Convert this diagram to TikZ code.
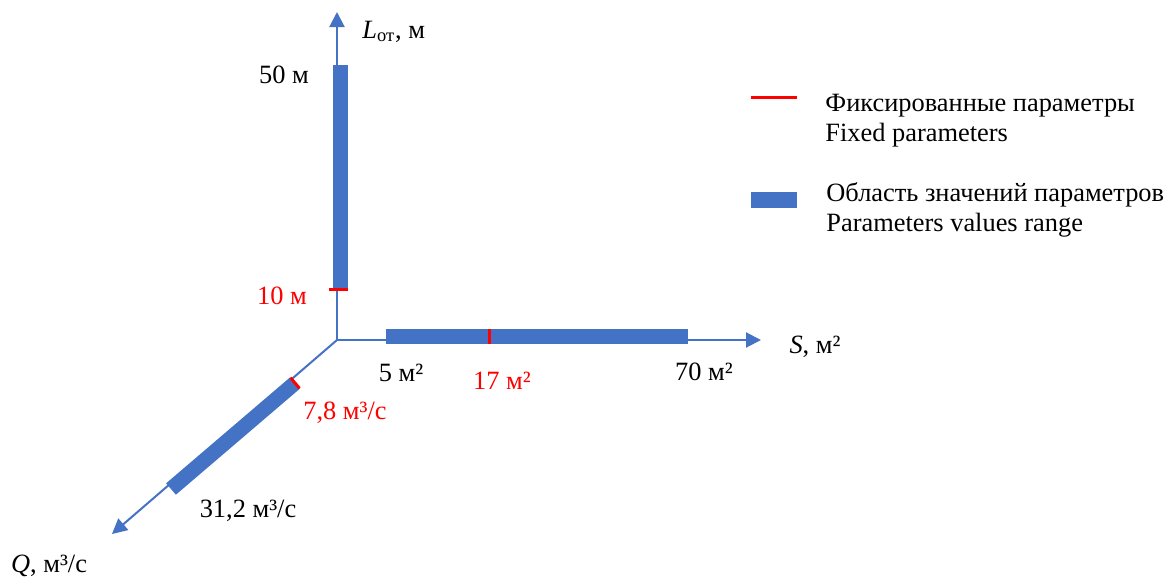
\documentclass[tikz,border=0pt]{standalone}
\usepackage{fontspec}
\setmainfont{LiberationSerif}[Extension=.ttf, UprightFont=*-Regular, ItalicFont=*-Italic, BoldFont=*-Bold, BoldItalicFont=*-BoldItalic]
\usepackage{tikz}
\usetikzlibrary{arrows.meta, calc}
\definecolor{cAxis}{RGB}{68,114,196}
\definecolor{cFix}{RGB}{255,0,0}
\tikzset{
	axis/.style    ={cAxis, line width=1pt, -{Triangle[length=7.5pt, width=7.5pt]}},
	rangebar/.style={cAxis, line width=7.5pt, line cap=butt},
	fixmark/.style ={cFix, line width=1.5pt},
	lbl/.style     ={inner sep=0pt, anchor=center},
	fixlbl/.style  ={lbl, text=cFix},
	legtxt/.style  ={inner sep=0pt, anchor=west, align=left},
}

\begin{document}
\begin{tikzpicture}[x=0.5pt, y=-0.5pt, font=\rmfamily\fontsize{13.2}{15}\selectfont]
	\useasboundingbox (0,0) rectangle (1171,578);
	% axes
	\coordinate (O) at (337,340);
	\coordinate (Ltip) at (337,12);
	\coordinate (Stip) at (761,340);
	\coordinate (Qtip) at (112,534);
	\draw[axis] (O) -- (Ltip);
	\draw[axis] (O) -- (Stip);
	\draw[axis] (O) -- (Qtip);
	% value ranges
	\coordinate (L50) at (340.5,65);  \coordinate (L10) at (340.5,289);
	\coordinate (S5) at (386,336.5);  \coordinate (S70) at (688,336.5); \coordinate (S17) at (489,336.5);
	\coordinate (Q78) at (295,383);   \coordinate (Q312) at (171,489);
	\draw[rangebar] (L10) -- (L50);
	\draw[rangebar] (S5) -- (S70);
	\draw[rangebar] (Q78) -- (Q312);
	\draw[fixmark] ($(L10)+(-11.5,0)$) -- ($(L10)+(7.5,0)$);
	\draw[fixmark] ($(S17)+(0,-7.5)$) -- ($(S17)+(0,7.5)$);
	\draw[fixmark] ($(Q78)+(-4.5,-5.3)$) -- ($(Q78)+(4.5,5.3)$);
	% labels
	\node[inner sep=0pt, anchor=base west] (lL) at (362,38) {\textit{L}\textsubscript{от}, м};
	\node[lbl] (l50) at (284,75) {50 м};
	\node[fixlbl] (l10) at (282,296) {10 м};
	\node[lbl] (l5) at (401,373) {5 м²};
	\node[fixlbl] (l17) at (502,381) {17 м²};
	\node[lbl] (l70) at (704,372) {70 м²};
	\node[lbl] (lS) at (815,347) {\textit{S}, м²};
	\node[fixlbl] (l78) at (345,413) {7,8 м³/с};
	\node[lbl] (l312) at (248,511) {31,2 м³/с};
	\node[lbl] (lQ) at (49,566) {\textit{Q}, м³/с};
	% legend
	\coordinate (fixA) at (751,97); \coordinate (fixB) at (797,97);
	\draw[fixmark] (fixA) -- (fixB);
	\fill[cAxis] (751,192) rectangle (797,208);
	\node[legtxt] (legfix) at (825,121) {Фиксированные параметры\\Fixed parameters};
	\node[legtxt] (legrng) at (826,210) {Область значений параметров\\Parameters values range};
\end{tikzpicture}
\end{document}
